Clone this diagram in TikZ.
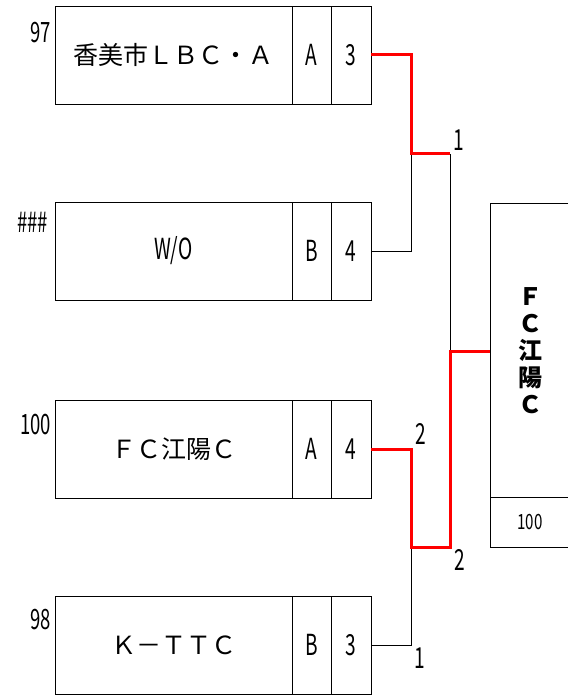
\documentclass[tikz,border=0pt]{standalone}
\usepackage{fontspec}
\usepackage{graphicx}
\setmainfont{Noto Sans CJK JP}
\newcommand\narrowtxt[1]{\scalebox{0.66}[1]{#1}}
\begin{document}
\begin{tikzpicture}[x=1pt,y=-1pt,
  cell/.style={draw, line width=0.9pt, inner sep=0pt, outer sep=0pt, anchor=north west, minimum height=98pt},
  namecell/.style={cell, minimum width=237pt, font=\fontsize{25}{29}\selectfont},
  grpcell/.style={cell, minimum width=39pt, font=\fontsize{29}{34}\selectfont},
  scorecell/.style={cell, minimum width=40pt, font=\fontsize{29}{34}\selectfont},
  seed/.style={anchor=east, inner sep=0pt, font=\fontsize{28}{32}\selectfont},
  lab/.style={inner sep=0pt, font=\fontsize{29}{34}\selectfont},
  lose/.style={draw=black, line width=0.9pt},
  win/.style={draw=red, line width=3pt},
]
\useasboundingbox (0,0) rectangle (568,695);

% team rows
\node[namecell] (n1) at (55,6) {香美市ＬＢＣ・Ａ};
\node[grpcell] (g1) at (292,6) {\narrowtxt{A}};
\node[scorecell] (s1) at (331,6) {\narrowtxt{3}};

\node[namecell] (n2) at (55,202) {\fontsize{29}{34}\selectfont\narrowtxt{W/O}};
\node[grpcell] (g2) at (292,202) {\narrowtxt{B}};
\node[scorecell] (s2) at (331,202) {\narrowtxt{4}};

\node[namecell] (n3) at (55,400) {ＦＣ江陽Ｃ};
\node[grpcell] (g3) at (292,400) {\narrowtxt{A}};
\node[scorecell] (s3) at (331,400) {\narrowtxt{4}};

\node[namecell] (n4) at (55,596) {Ｋ－ＴＴＣ};
\node[grpcell] (g4) at (292,596) {\narrowtxt{B}};
\node[scorecell] (s4) at (331,596) {\narrowtxt{3}};

% seeds
\node[seed] (p1) at (51,33) {\narrowtxt{97}};
\node[seed] (p2) at (48,222) {\narrowtxt{\#\#\#}};
\node[seed] (p3) at (51,425) {\narrowtxt{100}};
\node[seed] (p4) at (51,620) {\narrowtxt{98}};

% winner box
\node[inner sep=0pt, outer sep=0pt, anchor=north west, minimum width=78pt, minimum height=344pt] (w) at (490,203) {};
\draw[lose] (w.north east) -- (w.north west) -- (w.south west) -- (w.south east);
\coordinate (wd) at (490,497);
\draw[lose] (wd) -- (wd -| w.east);
\node[inner sep=0pt, align=center, font=\fontsize{24}{27}\selectfont\bfseries] (wn) at (530,351) {Ｆ\\Ｃ\\江\\陽\\Ｃ};
\node[inner sep=0pt, font=\fontsize{21}{25}\selectfont] (wp) at (530,522) {\scalebox{0.72}[1]{100}};

% junctions
\coordinate (j1) at (411,154);
\coordinate (j2) at (411,547);
\coordinate (k1) at (450,154);
\coordinate (k2) at (450,547);
\coordinate (f) at (450,351);

% connectors
\draw[lose] (s2.east) -| (j1);
\draw[lose] (s4.east) -| (j2);
\draw[lose] (k1) -- (f);
\draw[win] (s1.east) -| (j1) -- (k1);
\draw[win] (s3.east) -| (j2) -- (k2) -- (f) -- (w.west |- f);

% round scores
\node[lab] (r1) at (459,140) {\narrowtxt{1}};
\node[lab] (r2) at (421,434) {\narrowtxt{2}};
\node[lab] (r3) at (460,560) {\narrowtxt{2}};
\node[lab] (r4) at (420,658) {\narrowtxt{1}};
\end{tikzpicture}
\end{document}
